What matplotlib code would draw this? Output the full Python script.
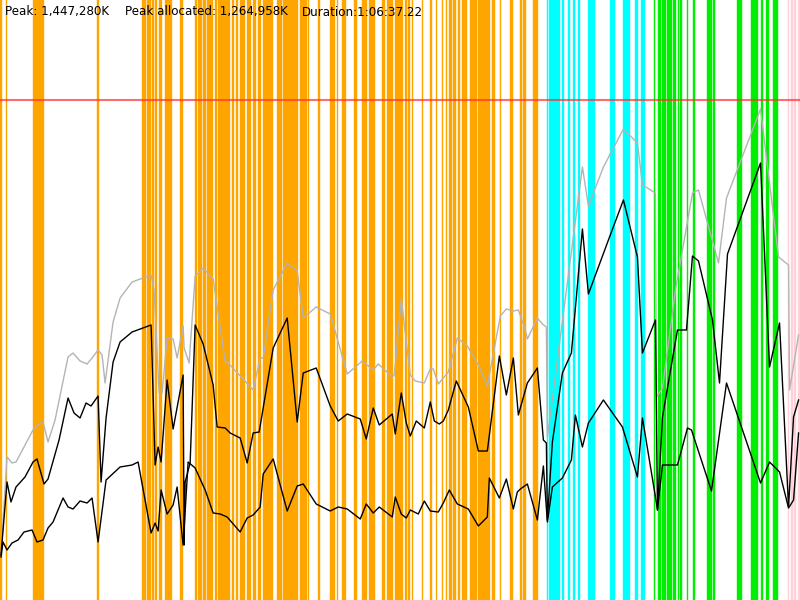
import matplotlib
matplotlib.use('Agg')
import matplotlib.pyplot as plt

# run length in seconds (1:06:37.22) and memory in MB
duration = 3997.22
mem_top = 1800
mem_limit = 1500

# peak memory (grey)
peak_t = [5, 35, 60, 80, 165, 185, 215, 240, 275, 340, 365, 400, 435, 460, 490, 510, 525, 565,
          600, 660, 755, 770, 795, 810, 835, 865, 885, 915, 920, 945, 975, 1015, 1065, 1125,
          1140, 1265, 1300, 1315, 1365, 1435, 1485, 1515, 1580, 1650, 1735, 1810, 1865, 1890,
          1960, 1970, 2005, 2025, 2050, 2075, 2120, 2150, 2165, 2190, 2240, 2285, 2335, 2390,
          2435, 2500, 2530, 2565, 2590, 2625, 2635, 2685, 2710, 2730, 2735, 2910, 2940, 3015,
          3115, 3185, 3210, 3275, 3280, 3310, 3375, 3460, 3490, 3590, 3630, 3800, 3890, 3940,
          3945, 3990]
peak_mb = [135, 429, 411, 414, 510, 525, 534, 474, 540, 729, 741, 717, 708, 726, 750, 735, 651,
           834, 906, 954, 975, 930, 621, 621, 786, 783, 726, 822, 756, 711, 972, 996, 963, 714,
           711, 630, 726, 726, 930, 1011, 987, 846, 879, 858, 678, 717, 690, 708, 669, 675, 903,
           801, 675, 657, 651, 693, 693, 648, 684, 786, 762, 705, 642, 852, 873, 867, 870, 810,
           783, 846, 828, 819, 489, 1299, 1182, 1299, 1413, 1371, 1245, 1221, 609, 636, 930,
           1221, 1230, 1011, 1206, 1473, 1029, 1005, 630, 795]

# used memory (upper black)
used_t = [5, 35, 55, 80, 125, 165, 185, 220, 240, 295, 340, 370, 400, 430, 455, 490, 505, 530,
          565, 600, 660, 755, 775, 790, 805, 835, 865, 915, 920, 925, 950, 975, 1015, 1065,
          1085, 1125, 1150, 1200, 1235, 1265, 1295, 1365, 1435, 1485, 1515, 1580, 1650, 1690,
          1735, 1800, 1830, 1865, 1895, 1960, 1975, 2005, 2030, 2050, 2080, 2120, 2150, 2170,
          2195, 2215, 2240, 2280, 2340, 2390, 2435, 2495, 2530, 2565, 2590, 2635, 2685, 2715,
          2730, 2735, 2760, 2810, 2855, 2910, 2940, 3040, 3115, 3185, 3210, 3275, 3285, 3310,
          3385, 3430, 3460, 3490, 3560, 3595, 3635, 3800, 3845, 3895, 3940, 3965, 3990]
used_mb = [135, 354, 294, 339, 369, 414, 423, 348, 363, 480, 606, 561, 546, 591, 582, 612, 354,
           546, 714, 774, 804, 825, 405, 459, 414, 660, 513, 675, 165, 354, 411, 825, 768, 645,
           519, 516, 501, 486, 411, 501, 504, 756, 846, 534, 681, 696, 582, 537, 558, 543, 483,
           576, 525, 558, 498, 621, 531, 492, 537, 516, 594, 537, 528, 537, 570, 657, 579, 447,
           447, 732, 615, 726, 555, 651, 696, 480, 471, 240, 474, 681, 741, 1113, 918, 1080,
           1200, 1029, 741, 840, 270, 549, 810, 810, 1032, 1017, 840, 651, 1038, 1311, 699, 831,
           279, 549, 600]

# allocated memory (lower black)
alloc_t = [5, 15, 35, 60, 90, 120, 160, 185, 215, 240, 265, 315, 340, 365, 400, 435, 460, 490,
           530, 600, 660, 690, 755, 775, 790, 805, 835, 865, 885, 915, 940, 975, 1025, 1065,
           1100, 1135, 1200, 1235, 1265, 1300, 1315, 1365, 1435, 1485, 1515, 1580, 1650, 1690,
           1735, 1800, 1830, 1865, 1895, 1960, 1975, 2005, 2030, 2050, 2090, 2120, 2150, 2190,
           2215, 2245, 2285, 2340, 2390, 2435, 2445, 2495, 2530, 2565, 2585, 2600, 2635, 2685,
           2715, 2735, 2760, 2810, 2855, 2875, 2910, 2940, 3015, 3110, 3185, 3210, 3275, 3285,
           3310, 3385, 3435, 3455, 3555, 3630, 3800, 3845, 3895, 3940, 3965, 3990]
alloc_mb = [129, 174, 150, 171, 180, 204, 210, 174, 180, 216, 234, 306, 279, 273, 297, 291, 306,
            174, 360, 399, 405, 414, 201, 231, 207, 330, 258, 285, 339, 165, 414, 396, 330, 261,
            258, 249, 204, 246, 255, 279, 378, 423, 267, 342, 348, 288, 267, 279, 273, 243, 288,
            261, 279, 249, 309, 258, 246, 270, 258, 297, 267, 264, 291, 330, 288, 273, 222, 249,
            366, 306, 363, 273, 324, 333, 348, 240, 402, 234, 339, 366, 420, 555, 459, 531, 600,
            519, 369, 546, 309, 270, 405, 405, 516, 510, 327, 651, 351, 414, 384, 276, 300, 501]

# phase spans (start, end) in seconds
orange_spans = [(0, 10), (30, 35), (165, 220), (485, 495), (710, 730), (735, 755), (760, 770),
                (775, 785), (795, 810), (825, 830), (830, 860), (900, 915), (975, 985),
                (990, 1010), (1015, 1030), (1035, 1065), (1075, 1085), (1090, 1150),
                (1160, 1170), (1180, 1190), (1200, 1225), (1235, 1255), (1265, 1280),
                (1290, 1305), (1315, 1365), (1385, 1410), (1415, 1490), (1500, 1535),
                (1540, 1545), (1590, 1600), (1650, 1675), (1685, 1690), (1710, 1730),
                (1770, 1785), (1810, 1835), (1845, 1875), (1910, 1925), (1935, 1965),
                (1975, 1985), (1985, 2015), (2025, 2035), (2040, 2050), (2060, 2065),
                (2110, 2115), (2150, 2160), (2180, 2185), (2210, 2215), (2230, 2235),
                (2245, 2260), (2265, 2280), (2290, 2300), (2310, 2335), (2350, 2385),
                (2390, 2450), (2460, 2475), (2500, 2505), (2550, 2565), (2600, 2610),
                (2615, 2630), (2665, 2690)]
cyan_spans = [(2735, 2740), (2745, 2800), (2810, 2820), (2840, 2850), (2865, 2875),
              (2890, 2900), (2940, 2975), (3050, 3075), (3115, 3150), (3175, 3190),
              (3205, 3225)]
green_spans = [(3270, 3275), (3290, 3305), (3310, 3330), (3335, 3360), (3365, 3380),
               (3390, 3395), (3400, 3410), (3435, 3440), (3465, 3475), (3535, 3560),
               (3565, 3575), (3680, 3705), (3750, 3785), (3800, 3810), (3825, 3840),
               (3860, 3885)]
pink_spans = [(3935, 3940), (3950, 3960), (3965, 3975), (3985, 4000)]

fig = plt.figure(figsize=(8, 6), dpi=100)
ax = fig.add_axes([0, 0, 1, 1])
ax.set_xlim(0, duration)
ax.set_ylim(0, mem_top)
ax.axis('off')

for spans, col in [(orange_spans, '#ffa500'), (cyan_spans, '#00ffff'),
                   (green_spans, '#00ee00'), (pink_spans, '#ffd0d8')]:
    for a, b in spans:
        ax.axvspan(a, b, facecolor=col, edgecolor=col, lw=0.3, zorder=1)

ax.axhline(mem_limit, color='#ff3030', alpha=0.7, lw=1.5, zorder=2)

ax.plot(peak_t, peak_mb, color='#b4b4b4', lw=1.0, zorder=3)
ax.plot(used_t, used_mb, color='black', lw=1.0, zorder=4)
ax.plot(alloc_t, alloc_mb, color='black', lw=1.0, zorder=4)

ty = 1 - 12 / 600
ax.text(5 / 800, ty, 'Peak: 1,447,280K', transform=ax.transAxes, fontsize=8.6, va='center')
ax.text(125 / 800, ty, 'Peak allocated: 1,264,958K', transform=ax.transAxes, fontsize=8.6, va='center')
ax.text(302 / 800, ty, 'Duration:1:06:37.22', transform=ax.transAxes, fontsize=8.6, va='center')

fig.savefig('out.png', dpi=100)
